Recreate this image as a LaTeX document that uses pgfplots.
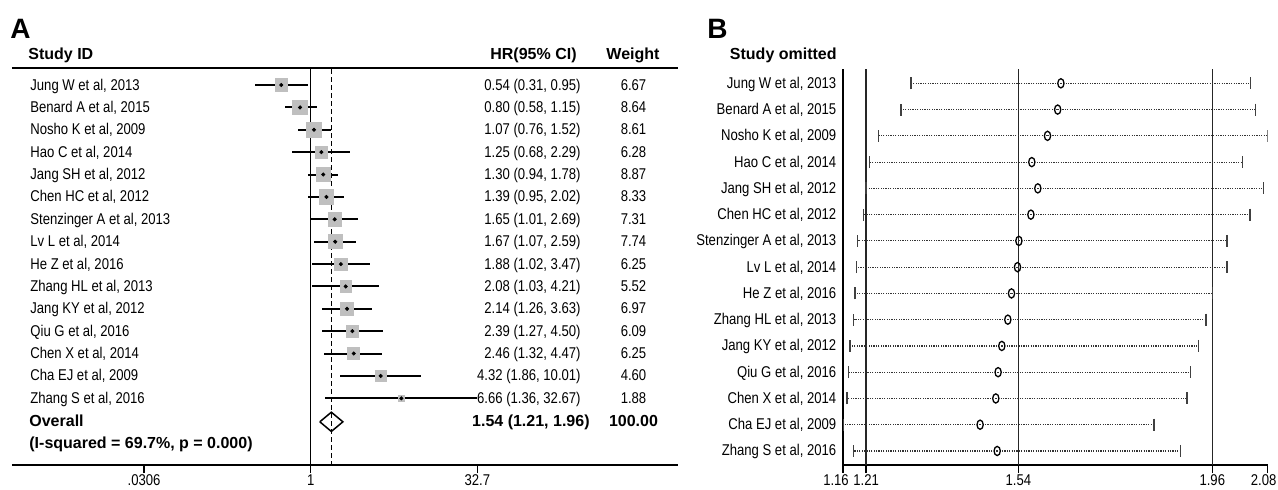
\documentclass[border=0pt]{standalone}
\usepackage{pgfplots}
\pgfplotsset{compat=1.18}
\usepackage{pgfplotstable}
\usepackage{fontspec}
\setmainfont{Liberation Sans}
\newfontfamily\cond{Liberation Sans}[FakeStretch=0.84]
\newcommand\rf{\cond\fontsize{7.8pt}{9pt}\selectfont}
\newcommand\bfn{\fontsize{8pt}{9.6pt}\selectfont\bfseries}
\definecolor{sqgray}{RGB}{191,191,191}

\pgfplotstableread{
row hr lo hi w
1 0.54 0.31 0.95 6.67
2 0.80 0.58 1.15 8.64
3 1.07 0.76 1.52 8.61
4 1.25 0.68 2.29 6.28
5 1.30 0.94 1.78 8.87
6 1.39 0.95 2.02 8.33
7 1.65 1.01 2.69 7.31
8 1.67 1.07 2.59 7.74
9 1.88 1.02 3.47 6.25
10 2.08 1.03 4.21 5.52
11 2.14 1.26 3.63 6.97
12 2.39 1.27 4.50 6.09
13 2.46 1.32 4.47 6.25
14 4.32 1.86 10.01 4.60
15 6.66 1.36 32.67 1.88
}\dataA

\pgfplotstableread{
row est lo hi
1 1.632 1.307 2.043
2 1.625 1.286 2.054
3 1.603 1.237 2.080
4 1.569 1.218 2.025
5 1.582 1.210 2.071
6 1.567 1.204 2.042
7 1.541 1.192 1.992
8 1.538 1.189 1.992
9 1.525 1.186 1.961
10 1.517 1.183 1.946
11 1.504 1.175 1.930
12 1.496 1.172 1.913
13 1.491 1.169 1.905
14 1.457 1.160 1.834
15 1.494 1.183 1.891
}\dataB

\def\rowsA{{Jung W et al, 2013}/{0.54 (0.31, 0.95)}/6.67,
{Benard A et al, 2015}/{0.80 (0.58, 1.15)}/8.64,
{Nosho K et al, 2009}/{1.07 (0.76, 1.52)}/8.61,
{Hao C et al, 2014}/{1.25 (0.68, 2.29)}/6.28,
{Jang SH et al, 2012}/{1.30 (0.94, 1.78)}/8.87,
{Chen HC et al, 2012}/{1.39 (0.95, 2.02)}/8.33,
{Stenzinger A et al, 2013}/{1.65 (1.01, 2.69)}/7.31,
{Lv L et al, 2014}/{1.67 (1.07, 2.59)}/7.74,
{He Z et al, 2016}/{1.88 (1.02, 3.47)}/6.25,
{Zhang HL et al, 2013}/{2.08 (1.03, 4.21)}/5.52,
{Jang KY et al, 2012}/{2.14 (1.26, 3.63)}/6.97,
{Qiu G et al, 2016}/{2.39 (1.27, 4.50)}/6.09,
{Chen X et al, 2014}/{2.46 (1.32, 4.47)}/6.25,
{Cha EJ et al, 2009}/{4.32 (1.86, 10.01)}/4.60,
{Zhang S et al, 2016}/{6.66 (1.36, 32.67)}/1.88}

\begin{document}
\begin{tikzpicture}
\path[use as bounding box] (0,0) rectangle (639pt,-244.5pt);

% ---------- Panel A ----------
\begin{axis}[at={(6pt,-232.5pt)}, anchor=south west, scale only axis,
  width=333pt, height=198.5pt,
  xmode=log, xmin=0.001932, xmax=2173,
  ymin=0.24, ymax=17.98, y dir=reverse,
  separate axis lines,
  x axis line style={line width=0.75pt, black},
  y axis line style={draw=none},
  ytick=\empty,
  xtick={0.0306,1,32.7}, xticklabels={.0306,1,32.7},
  xtick pos=left, tick align=outside, major tick length=4pt,
  tick style={black, line width=0.75pt},
  ticklabel style={font=\rf, inner sep=0.6pt},
  clip=false]
\addplot[black, line width=0.75pt] coordinates {(1,0.24) (1,17.98)};
\addplot[black, line width=0.7pt, dash pattern=on 2.5pt off 1.5pt] coordinates {(1.54,0.3) (1.54,17.98)};
\addplot[scatter, only marks, mark=square*, color=sqgray,
  mark options={draw=sqgray, fill=sqgray},
  scatter/use mapped color={draw=sqgray, fill=sqgray},
  visualization depends on={1.225*sqrt(\thisrow{w}) \as \msz},
  scatter/@pre marker code/.append style={/tikz/mark size=\msz}]
  table[x=hr, y=row] {\dataA};
\addplot[only marks, mark=*, mark size=0.8pt, black,
  error bars/.cd, x dir=both, x explicit, error mark=none,
  error bar style={line width=1pt, black}]
  table[x=hr, y=row, x error plus expr=\thisrow{hi}-\thisrow{hr}, x error minus expr=\thisrow{hr}-\thisrow{lo}] {\dataA};
\addplot[black, line width=0.75pt] coordinates {(1.21,16.05) (1.54,15.62) (1.96,16.05) (1.54,16.48) (1.21,16.05)};
\end{axis}

% ---------- Panel B ----------
\begin{axis}[at={(421.5pt,-232.5pt)}, anchor=south west, scale only axis,
  width=212.35pt, height=198pt,
  xmin=1.16, xmax=2.08, ymin=0.455, ymax=15.535, y dir=reverse,
  axis x line*=bottom, axis y line*=left,
  axis line style={line width=0.75pt, black, -},
  ytick=\empty,
  xtick={1.16,1.21,1.54,1.96,2.08},
  xticklabels={{1.16\rule{7pt}{0pt}},1.21,1.54,1.96,{2.08\rule{4pt}{0pt}}},
  tick align=outside, major tick length=4pt,
  tick style={black, line width=0.75pt},
  ticklabel style={font=\rf, inner sep=0.6pt}]
\addplot[black!85, line width=0.75pt] coordinates {(1.21,0.455) (1.21,15.535)};
\addplot[black!85, line width=0.75pt] coordinates {(1.54,0.455) (1.54,15.535)};
\addplot[black!85, line width=0.75pt] coordinates {(1.96,0.455) (1.96,15.535)};
\addplot[only marks, mark=o, mark size=2.3pt, black,
  mark options={xscale=0.68, line width=0.65pt, fill=white},
  error bars/.cd, x dir=both, x explicit,
  error mark options={rotate=90, black!75, mark size=3pt, line width=0.7pt},
  error bar style={black!80, line width=0.6pt, dash pattern=on 0.6pt off 0.6pt}]
  table[x=est, y=row, x error plus expr=\thisrow{hi}-\thisrow{est}, x error minus expr=\thisrow{est}-\thisrow{lo}] {\dataB};
\end{axis}

% ---------- Text ----------
\node[anchor=base west, inner sep=0, font=\fontsize{14pt}{16pt}\selectfont\bfseries] at (5pt,-19pt) {A};
\node[anchor=base west, inner sep=0, font=\fontsize{14pt}{16pt}\selectfont\bfseries] at (353.5pt,-19pt) {B};
\node[anchor=base west, inner sep=0, font=\bfn] at (14pt,-29.5pt) {Study ID};
\node[anchor=base east, inner sep=0, font=\bfn] at (288.5pt,-29.5pt) {HR(95\% CI)};
\node[anchor=base, inner sep=0, font=\bfn] at (316.5pt,-29.5pt) {Weight};
\node[anchor=base east, inner sep=0, font=\bfn] at (418.5pt,-29.5pt) {Study omitted};

\foreach \n/\h/\w [count=\i] in \rowsA {
  \pgfmathsetmacro\ya{-(45+(\i-1)*11.19)}
  \pgfmathsetmacro\yb{-(44.15+(\i-1)*13.13)}
  \node[anchor=base west, inner sep=0, font=\rf] at (15pt,\ya pt) {\n};
  \node[anchor=base east, inner sep=0, font=\rf] at (290.5pt,\ya pt) {\h};
  \node[anchor=base, inner sep=0, font=\rf] at (316.75pt,\ya pt) {\w};
  \node[anchor=base east, inner sep=0, font=\rf] at (418.3pt,\yb pt) {\n};
}

\node[anchor=base west, inner sep=0, font=\bfn] at (14.5pt,-213.25pt) {Overall};
\node[anchor=base east, inner sep=0, font=\bfn] at (295pt,-213.25pt) {1.54 (1.21, 1.96)};
\node[anchor=base, inner sep=0, font=\bfn] at (316.75pt,-213.25pt) {100.00};
\node[anchor=base west, inner sep=0, font=\bfn] at (14.5pt,-224pt) {(I-squared = 69.7\%, p = 0.000)};
\end{tikzpicture}
\end{document}
